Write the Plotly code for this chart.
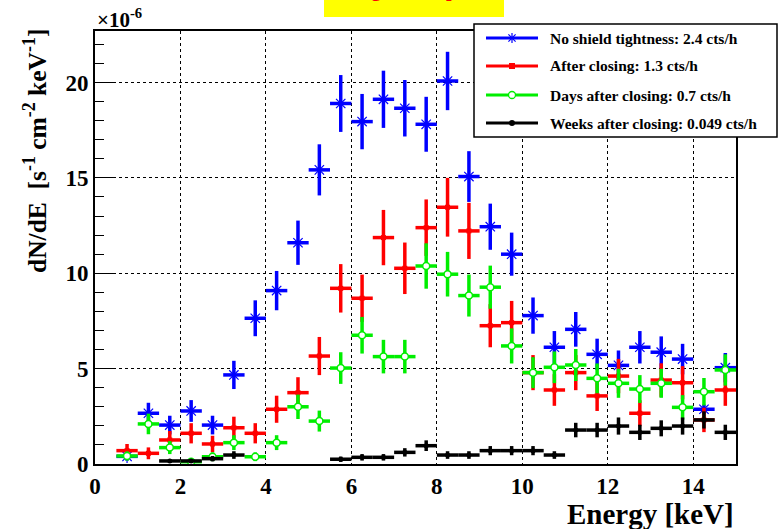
import plotly.graph_objects as go

# Bin centres (0.5 keV bins)
energy = [0.75 + 0.5 * i for i in range(29)]
bin_half_width = 0.25

no_shield = [0.40, 2.66, 2.04, 2.78, 2.04, 4.67, 7.64, 9.09, 11.6, 15.42, 18.9, 17.95, 19.12, 18.65, 17.81,
             20.08, 15.07, 12.44, 11.0, 7.78, 6.12, 7.06, 5.75, 5.17, 6.12, 5.86, 5.5, 2.87, 5.05]
no_shield_err = [0.22, 0.55, 0.49, 0.57, 0.49, 0.74, 0.94, 1.03, 1.16, 1.34, 1.49, 1.45, 1.50, 1.48, 1.44,
                 1.53, 1.33, 1.21, 1.13, 0.95, 0.85, 0.91, 0.82, 0.78, 0.85, 0.83, 0.80, 0.25, 0.77]

after_closing = [0.70, 0.56, 1.26, 1.61, 1.05, 1.90, 1.61, 2.87, 3.74, 5.66, 9.21, 8.69, 11.87, 10.26, 12.39,
                 13.46, 12.22, 7.25, 7.41, 4.79, 3.88, 4.79, 3.57, 4.61, 2.66, 4.40, 4.26, 2.31, 3.88]
after_closing_err = [0.35, 0.31, 0.47, 0.53, 0.43, 0.58, 0.53, 0.71, 0.81, 1.0, 1.27, 1.24, 1.45, 1.35, 1.48,
                     1.54, 1.47, 1.13, 1.14, 0.92, 0.83, 0.92, 0.79, 0.90, 0.68, 0.88, 0.87, 0.64, 0.83]

days_after = [0.42, 2.10, 0.86, 0.12, 0.38, 1.12, 0.38, 1.12, 3.00, 2.25, 5.03, 6.75, 5.63, 5.63, 10.38,
              9.95, 8.83, 9.27, 6.19, 4.79, 5.07, 5.19, 4.49, 4.23, 3.93, 4.23, 2.97, 3.79, 4.93]
days_after_err = [0.24, 0.54, 0.34, 0.13, 0.23, 0.39, 0.23, 0.39, 0.64, 0.55, 0.83, 0.96, 0.88, 0.88, 1.19,
                  1.17, 1.10, 1.13, 0.92, 0.81, 0.83, 0.84, 0.78, 0.76, 0.73, 0.76, 0.64, 0.72, 0.82]

weeks_after = [None, None, 0.16, 0.16, 0.28, 0.47, None, None, None, None, 0.25, 0.35, 0.35, 0.61, 0.96,
               0.47, 0.47, 0.70, 0.70, 0.70, 0.47, 1.78, 1.78, 1.99, 1.66, 1.87, 1.99, 2.31, 1.66]
weeks_after_err = [0, 0, 0.10, 0.10, 0.14, 0.20, 0, 0, 0, 0, 0.14, 0.17, 0.17, 0.22, 0.28,
                   0.20, 0.20, 0.24, 0.24, 0.24, 0.20, 0.38, 0.38, 0.45, 0.40, 0.42, 0.45, 0.45, 0.40]

labels = ["No shield tightness: 2.4 cts/h", "After closing: 1.3 cts/h",
          "Days after closing: 0.7 cts/h", "Weeks after closing: 0.049 cts/h"]
colors = ["#0000ff", "#ff0000", "#00ee00", "#000000"]

SERIF = "Liberation Serif"

fig = go.Figure()

series = [
    (no_shield, no_shield_err, dict(symbol="asterisk-open", size=11, color=colors[0], line=dict(color=colors[0], width=1.2))),
    (after_closing, after_closing_err, dict(symbol="square", size=5, color=colors[1], line=dict(width=0))),
    (days_after, days_after_err, dict(symbol="circle", size=7, color="white", line=dict(color=colors[2], width=1.5))),
    (weeks_after, weeks_after_err, dict(symbol="circle", size=5, color=colors[3], line=dict(width=0))),
]
for (vals, errs, mk), col, lab in zip(series, colors, labels):
    fig.add_trace(go.Scatter(
        x=energy, y=vals, mode="markers", name=lab, showlegend=False,
        marker=mk,
        error_y=dict(type="data", array=errs, visible=True, color=col, thickness=3.5, width=0),
        error_x=dict(type="constant", value=bin_half_width, visible=True, color=col, thickness=3.5, width=0),
        cliponaxis=True,
    ))

# plot area geometry (pixels) for paper-coordinate helpers
L, R, T, B = 95, 736, 31, 464
W, H = R - L, B - T
def px(x):
    return (x - L) / W
def py(y):
    return (B - y) / H

shapes = []
annotations = []

# title box (cut off at the top of the canvas, as in the original)
shapes.append(dict(type="rect", xref="paper", yref="paper", x0=px(324), x1=px(504), y0=py(17), y1=py(-5),
                   fillcolor="#ffff00", line=dict(width=0), layer="above"))
annotations.append(dict(text="Background spectra", xref="paper", yref="paper", x=px(414), y=py(3.5),
                        xanchor="center", yanchor="bottom", showarrow=False,
                        font=dict(family=SERIF, size=20, color="#ff0000", weight="bold")))

# legend box
shapes.append(dict(type="rect", xref="paper", yref="paper", x0=px(474), x1=px(777), y0=py(137), y1=py(24),
                   fillcolor="white", line=dict(color="black", width=1.5), layer="above"))
leg_y = [38, 66, 95, 123]
for i, (lab, col) in enumerate(zip(labels, colors)):
    yy = leg_y[i]
    shapes.append(dict(type="line", xref="paper", yref="paper", x0=px(486), x1=px(538), y0=py(yy), y1=py(yy),
                       line=dict(color=col, width=3), layer="above"))
    cx = 512
    if i == 0:
        for dx, dy in [(0, 5), (5, 0), (3.6, 3.6), (3.6, -3.6)]:
            shapes.append(dict(type="line", xref="paper", yref="paper", x0=px(cx - dx), x1=px(cx + dx),
                               y0=py(yy - dy), y1=py(yy + dy), line=dict(color=col, width=1.2), layer="above"))
    elif i == 1:
        shapes.append(dict(type="rect", xref="paper", yref="paper", x0=px(cx - 3), x1=px(cx + 3),
                           y0=py(yy + 3), y1=py(yy - 3), fillcolor=col, line=dict(width=0), layer="above"))
    elif i == 2:
        shapes.append(dict(type="circle", xref="paper", yref="paper", x0=px(cx - 3.5), x1=px(cx + 3.5),
                           y0=py(yy + 3.5), y1=py(yy - 3.5), fillcolor="white",
                           line=dict(color=col, width=1.3), layer="above"))
    else:
        shapes.append(dict(type="circle", xref="paper", yref="paper", x0=px(cx - 3), x1=px(cx + 3),
                           y0=py(yy + 3), y1=py(yy - 3), fillcolor=col, line=dict(width=0), layer="above"))
    annotations.append(dict(text=lab, xref="paper", yref="paper", x=px(548), y=py(yy), xanchor="left",
                            yanchor="middle", showarrow=False,
                            font=dict(family=SERIF, size=15.5, color="black", weight="bold")))

# exponent label
annotations.append(dict(text="×10<sup>-6</sup>", xref="paper", yref="paper", x=0, y=1.0, xanchor="left",
                        yanchor="bottom", showarrow=False, yshift=-3,
                        font=dict(family=SERIF, size=21, color="black", weight="bold")))
# y axis title
annotations.append(dict(text="dN/dE  [s<sup>-1</sup> cm<sup>-2</sup> keV<sup>-1</sup>]", xref="paper", yref="paper",
                        x=px(36), y=py(27), xanchor="center", yanchor="top", textangle=-90, showarrow=False,
                        font=dict(family=SERIF, size=25.5, color="black", weight="bold")))
# x axis title
annotations.append(dict(text="Energy [keV]", xref="paper", yref="paper", x=1.0, y=py(514), xanchor="right",
                        yanchor="middle", showarrow=False,
                        font=dict(family=SERIF, size=29, color="black", weight="bold")))

tickfont = dict(family=SERIF, size=23, color="black", weight="bold")

fig.update_layout(
    width=779, height=529,
    margin=dict(l=L, r=779 - R, t=T, b=529 - B),
    paper_bgcolor="white", plot_bgcolor="white",
    shapes=shapes, annotations=annotations,
    showlegend=False,
    xaxis=dict(range=[0, 15], dtick=2, tick0=0, showgrid=True, gridcolor="black", griddash="dot", gridwidth=1,
               zeroline=False, showline=True, linecolor="black", linewidth=2, mirror=True,
               ticks="", tickfont=tickfont),
    yaxis=dict(range=[0, 22.7], dtick=5, tick0=0, showgrid=True, gridcolor="black", griddash="dot", gridwidth=1,
               zeroline=False, showline=True, linecolor="black", linewidth=2, mirror=True,
               ticks="inside", ticklen=18, tickwidth=1, tickcolor="black", tickfont=tickfont,
               minor=dict(dtick=1, ticks="inside", ticklen=9, tickwidth=1, tickcolor="black", showgrid=False)),
)

fig.write_html("out.html")
